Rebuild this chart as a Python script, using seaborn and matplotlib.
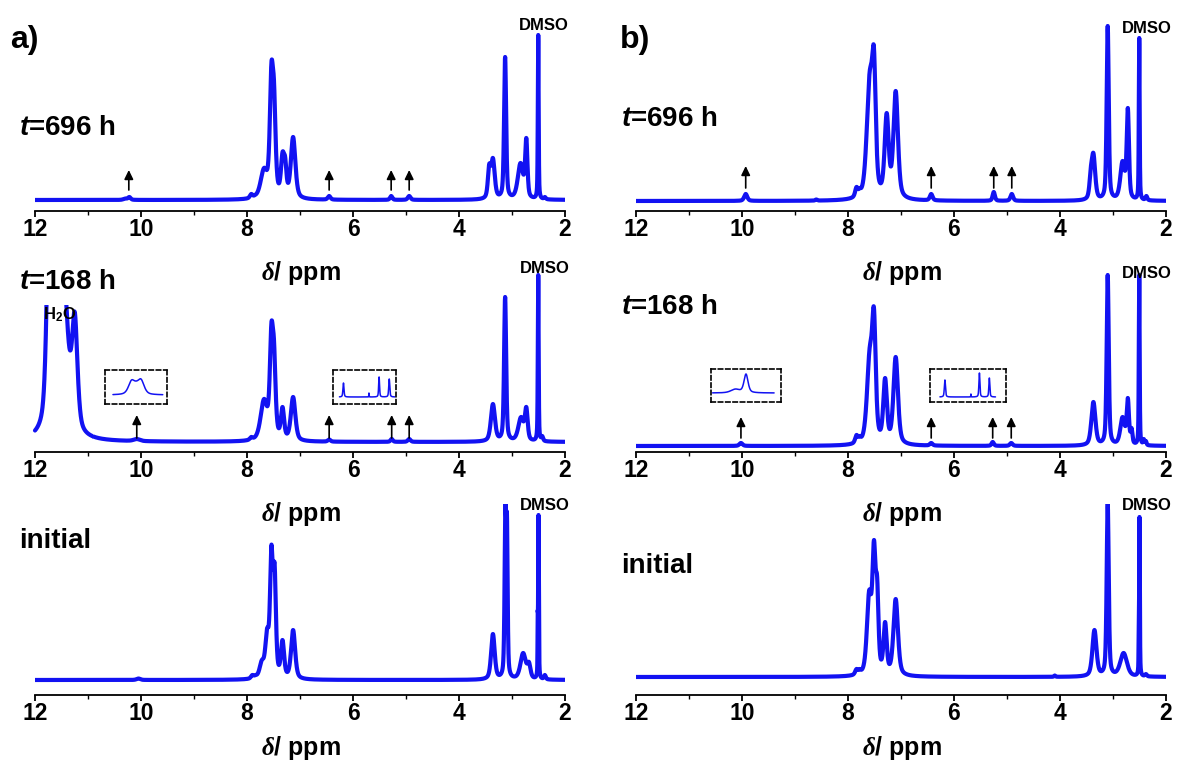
import numpy as np
import pandas as pd
import matplotlib
matplotlib.use("Agg")
import matplotlib.pyplot as plt
import seaborn as sns

sns.set_theme(style="white")
plt.rcParams["font.family"] = ["Liberation Sans", "DejaVu Sans"]
plt.rcParams["font.weight"] = "bold"
plt.rcParams["mathtext.fontset"] = "custom"
plt.rcParams["mathtext.it"] = "Liberation Serif:italic"
plt.rcParams["mathtext.rm"] = "Liberation Sans:bold"
plt.rcParams["mathtext.sf"] = "Liberation Sans:italic:bold"

# ---------------- data (peak tables) ----------------
# ppm position, height above baseline (pixel units), line width (fwhm, ppm)
a696_ppm = [10.30, 10.22, 7.92, 7.85, 7.68, 7.54, 7.49, 7.33, 7.28, 7.13, 6.45, 5.28, 4.94,
            3.43, 3.36, 3.13, 2.84, 2.73, 2.505, 2.38]
a696_int = [1.5, 3, 6, 5, 32, 137, 118, 48, 43, 63, 4, 4, 4,
            36, 42, 143, 37, 62, 165, 3]
a696_fwhm = [0.08, 0.06, 0.06, 0.06, 0.15, 0.07, 0.07, 0.07, 0.06, 0.10, 0.06, 0.05, 0.06,
             0.06, 0.08, 0.045, 0.12, 0.05, 0.018, 0.04]

a168_ppm = [11.72, 11.60, 11.46, 11.25, 10.08, 7.92, 7.85, 7.68, 7.54, 7.49, 7.33, 7.13,
            6.45, 5.27, 4.94, 3.36, 3.13, 2.83, 2.73, 2.505, 2.43]
a168_int = [300, 260, 180, 130, 3, 5, 5, 43, 119, 101, 35, 45,
            2.5, 3, 3, 38, 145, 25, 35, 167, 6]
a168_fwhm = [0.12, 0.16, 0.20, 0.12, 0.14, 0.06, 0.06, 0.15, 0.07, 0.07, 0.07, 0.10,
             0.06, 0.05, 0.06, 0.09, 0.045, 0.12, 0.06, 0.018, 0.04]
a168_h2o_limit = 137

a0_ppm = [10.05, 7.90, 7.84, 7.72, 7.62, 7.54, 7.48, 7.33, 7.13,
          3.36, 3.125, 3.095, 2.79, 2.68, 2.515, 2.50, 2.38]
a0_int = [1.5, 5, 5, 20, 52, 135, 117, 40, 50,
          46, 175, 165, 27, 18, 68, 165, 5]
a0_fwhm = [0.08, 0.06, 0.06, 0.10, 0.08, 0.06, 0.06, 0.07, 0.09,
           0.08, 0.035, 0.03, 0.12, 0.07, 0.008, 0.015, 0.04]

b696_ppm = [9.93, 8.60, 7.84, 7.78, 7.59, 7.51, 7.27, 7.10, 6.43, 5.25, 4.91,
            3.42, 3.37, 3.10, 2.82, 2.72, 2.505, 2.37]
b696_int = [7, 1.5, 14, 13, 130, 153, 88, 110, 7, 9, 7,
            33, 48, 175, 40, 93, 163, 5]
b696_fwhm = [0.07, 0.04, 0.06, 0.05, 0.13, 0.08, 0.09, 0.10, 0.06, 0.05, 0.06,
             0.06, 0.08, 0.045, 0.10, 0.05, 0.018, 0.04]

b168_ppm = [10.02, 7.84, 7.78, 7.59, 7.51, 7.30, 7.10, 6.43, 5.27, 4.92,
            3.37, 3.10, 2.82, 2.72, 2.65, 2.505, 2.42, 2.38]
b168_int = [3, 11, 10, 99, 138, 68, 89, 3, 4, 3,
            44, 171, 29, 48, 18, 171, 7, 5]
b168_fwhm = [0.07, 0.06, 0.05, 0.12, 0.08, 0.08, 0.10, 0.06, 0.05, 0.06,
             0.09, 0.045, 0.10, 0.05, 0.04, 0.018, 0.03, 0.03]

b0_ppm = [7.84, 7.78, 7.60, 7.51, 7.45, 7.30, 7.10, 4.10,
          3.35, 3.10, 2.80, 2.515, 2.50, 2.38]
b0_int = [8, 8, 87, 137, 100, 55, 78, 1.5,
          47, 174, 24, 45, 160, 3]
b0_fwhm = [0.06, 0.05, 0.10, 0.07, 0.06, 0.07, 0.10, 0.03,
           0.09, 0.045, 0.15, 0.008, 0.015, 0.04]

# zoomed insets (t = 168 h)
ina1_ppm = [10.18, 10.09, 10.00]
ina1_int = [15, 14, 16]
ina1_fwhm = [0.14, 0.14, 0.14]
ina2_ppm = [6.43, 5.60, 5.27, 4.94]
ina2_int = [14, 4, 20, 18]
ina2_fwhm = [0.04, 0.012, 0.035, 0.04]
inb1_ppm = [10.12, 9.92]
inb1_int = [4, 19]
inb1_fwhm = [0.20, 0.09]
inb2_ppm = [6.43, 5.54, 5.25, 4.91]
inb2_int = [17, 3, 24, 19]
inb2_fwhm = [0.045, 0.012, 0.04, 0.04]

arrows_a696 = [10.23, 6.45, 5.28, 4.94]
arrows_a168 = [10.08, 6.45, 5.27, 4.94]
arrows_b696 = [9.93, 6.43, 5.25, 4.91]
arrows_b168 = [10.02, 6.43, 5.27, 4.92]

xticks = [12, 10, 8, 6, 4, 2]
xtick_labels = ["12", "10", "8", "6", "4", "2"]
minor_ticks = [11, 9, 7, 5, 3]

BLUE = "#1212F2"
ETA = 0.5


def shape(x, c, w):
    d = (np.asarray(x, float)[:, None] - np.asarray(c, float)[None, :]) / np.asarray(w, float)[None, :]
    return ETA / (1.0 + 4.0 * d ** 2) + (1 - ETA) * np.exp(-4.0 * np.log(2) * d ** 2)


def spectrum(x, c, h, w):
    c = np.asarray(c, float)
    h = np.asarray(h, float)
    w = np.asarray(w, float)
    M = shape(c, c, w)
    active = np.ones(len(c), bool)
    amps = np.zeros(len(c))
    for _ in range(20):
        idx = np.where(active)[0]
        sol = np.linalg.solve(M[np.ix_(idx, idx)], h[idx])
        if np.all(sol >= 0):
            amps[:] = 0
            amps[idx] = sol
            break
        active[idx[sol < 0]] = False
    return shape(x, c, w) @ amps


PPM = np.linspace(12, 2, 10001)

W, H = 1186, 769
fig = plt.figure(figsize=(W / 100, H / 100), dpi=100)


def frac(left, top, right, bottom):
    return [left / W, 1 - bottom / H, (right - left) / W, (bottom - top) / H]


AX_H = 191
LW = 3.0
col_x = [(35, 565), (636, 1166)]
row_axis = [211, 452, 695]


def make_axes(col, row, gap):
    l, r = col_x[col]
    b = row_axis[row]
    ax = fig.add_axes(frac(l, b - AX_H, r, b))
    ax.set_xlim(12, 2)
    ax.set_ylim(-gap, AX_H - gap)
    for s in ["left", "right", "top"]:
        ax.spines[s].set_visible(False)
    ax.spines["bottom"].set_color("black")
    ax.spines["bottom"].set_linewidth(1.3)
    ax.set_xticks(xticks)
    ax.set_xticklabels(xtick_labels)
    ax.set_xticks(minor_ticks, minor=True)
    ax.tick_params(axis="x", which="major", direction="out", length=4, width=1.3,
                   labelsize=16.5, pad=1, colors="black", bottom=True)
    ax.tick_params(axis="x", which="minor", direction="out", length=3, width=1.0,
                   colors="black", bottom=True)
    ax.set_yticks([])
    ax.patch.set_alpha(0)
    for t in ax.get_xticklabels():
        t.set_fontweight("bold")
    return ax


def draw(ax, c, h, w, clip_above=None, clip_from=None):
    y = spectrum(PPM, c, h, w)
    df = pd.DataFrame({"ppm": PPM, "intensity": y})
    if clip_above is None:
        sns.lineplot(data=df, x="ppm", y="intensity", ax=ax, color=BLUE, lw=LW,
                     sort=False, estimator=None)
    else:
        part1 = df[df.ppm >= clip_from]
        part2 = df[df.ppm <= clip_from]
        sns.lineplot(data=part1, x="ppm", y="intensity", ax=ax, color=BLUE, lw=LW,
                     sort=False, estimator=None)
        rect = plt.Rectangle((clip_from, ax.get_ylim()[0] - 5), 12.5 - clip_from,
                             clip_above - ax.get_ylim()[0] + 5, transform=ax.transData,
                             fill=False, visible=False)
        ax.add_patch(rect)
        ax.lines[-1].set_clip_path(rect)
        sns.lineplot(data=part2, x="ppm", y="intensity", ax=ax, color=BLUE, lw=LW,
                     sort=False, estimator=None)
    ax.set_xlabel("")
    ax.set_ylabel("")


def add_arrows(ax, xs, tail, head):
    for x0 in xs:
        ax.annotate("", xy=(x0, head), xytext=(x0, tail),
                    arrowprops=dict(arrowstyle="-|>,head_length=0.45,head_width=0.22",
                                    color="black", lw=1.2, shrinkA=0, shrinkB=0))


def dmso(ax, x0, y0):
    ax.text(x0, y0, "DMSO", ha="center", va="baseline", fontsize=12, fontweight="bold",
            color="black")


def add_inset(box, xlim, xrange_, c, h, w, gap):
    l, t, r, b = box
    iax = fig.add_axes(frac(l, t, r, b))
    x = np.linspace(xrange_[0], xrange_[1], 1500)
    y = spectrum(x, c, h, w)
    sns.lineplot(x=x, y=y, ax=iax, color=BLUE, lw=1.1, sort=False, estimator=None)
    iax.set_xlim(*xlim)
    iax.set_ylim(-gap, (b - t) - gap)
    iax.set_xticks([])
    iax.set_yticks([])
    iax.set_xlabel("")
    iax.set_ylabel("")
    iax.patch.set_alpha(0)
    for s in iax.spines.values():
        s.set_visible(True)
        s.set_color("black")
        s.set_linewidth(1.2)
        s.set_linestyle((0, (2.6, 1.8)))


# ---- column a ----
ax = make_axes(0, 0, 11)
draw(ax, a696_ppm, a696_int, a696_fwhm)
add_arrows(ax, arrows_a696, 10, 30)
dmso(ax, 2.40, 170)

ax = make_axes(0, 1, 10)
draw(ax, a168_ppm, a168_int, a168_fwhm, clip_above=a168_h2o_limit, clip_from=10.9)
add_arrows(ax, arrows_a168, 4, 27)
dmso(ax, 2.38, 169)
ax.text(11.53, 122, "H$_2$O", ha="center", va="baseline", fontsize=12, fontweight="bold",
        color="black")

ax = make_axes(0, 2, 15)
draw(ax, a0_ppm, a0_int, a0_fwhm)
dmso(ax, 2.39, 170)

# ---- column b ----
ax = make_axes(1, 0, 10)
draw(ax, b696_ppm, b696_int, b696_fwhm)
add_arrows(ax, arrows_b696, 13, 35)
dmso(ax, 2.37, 168)

ax = make_axes(1, 1, 6)
draw(ax, b168_ppm, b168_int, b168_fwhm)
add_arrows(ax, arrows_b168, 8, 29)
dmso(ax, 2.37, 168)

ax = make_axes(1, 2, 18)
draw(ax, b0_ppm, b0_int, b0_fwhm)
dmso(ax, 2.37, 167)

# ---- insets ----
add_inset((105, 370, 167, 404), (10.68, 9.51), (10.53, 9.59), ina1_ppm, ina1_int, ina1_fwhm, 9)
add_inset((333, 370, 396, 404), (6.77, 4.72), (6.56, 4.76), ina2_ppm, ina2_int, ina2_fwhm, 7)
add_inset((711, 369, 781, 402), (10.58, 9.26), (10.55, 9.39), inb1_ppm, inb1_int, inb1_fwhm, 9)
add_inset((930, 369, 1006, 402), (6.94, 4.34), (6.60, 4.70), inb2_ppm, inb2_int, inb2_fwhm, 5)


# ---- texts ----
def ftext(x, y, s, size, **kw):
    fig.text(x / W, 1 - y / H, s, fontsize=size, fontweight="bold", ha="left",
             va="baseline", color="black", **kw)


ftext(10, 48, "a)", 23)
ftext(620, 48, "b)", 23)
ftext(19, 135, r"$\mathsf{t}$=696 h", 20)
ftext(19, 289, r"$\mathsf{t}$=168 h", 20)
ftext(19, 548, "initial", 20)
ftext(621, 126, r"$\mathsf{t}$=696 h", 20)
ftext(621, 314, r"$\mathsf{t}$=168 h", 20)
ftext(621, 573, "initial", 20)

for cx in [301, 902]:
    for cy in [273, 514, 748]:
        fig.text(cx / W, 1 - cy / H, r"$\delta$/ ppm", fontsize=18, fontweight="bold",
                 ha="center", va="center", color="black")

fig.savefig("out.png", dpi=100)
